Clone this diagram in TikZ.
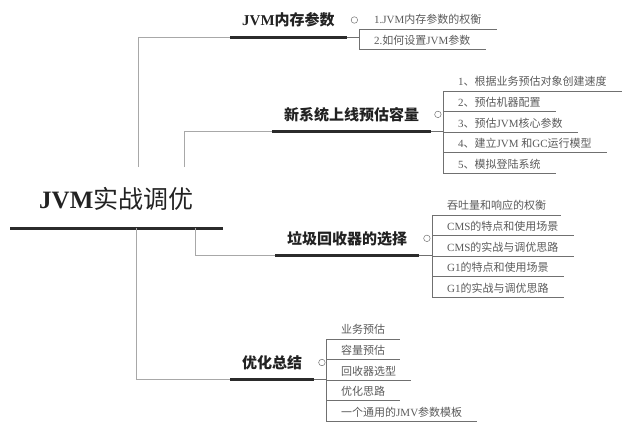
\documentclass[tikz,border=0pt]{standalone}
\usepackage{fontspec}
\setmainfont{Liberation Serif}
\newfontfamily\cjk{Noto Sans CJK SC}
\usetikzlibrary{positioning}
\definecolor{thinline}{HTML}{A8A8A8}
\definecolor{subline}{HTML}{707070}
\definecolor{barline}{HTML}{2B2B2B}
\definecolor{subtext}{HTML}{5A5A5A}
\definecolor{maintext}{HTML}{222222}
\newcommand{\zh}[1]{{\cjk #1}}

\begin{document}
\begin{tikzpicture}[x=1pt, y=-1pt,
  root/.style={anchor=south west, inner xsep=29pt, inner ysep=17pt,
    font=\fontsize{25}{25}\selectfont, text=maintext},
  branch/.style={anchor=south west, inner xsep=12pt, inner ysep=9.5pt,
    font=\fontsize{15}{15}\selectfont\bfseries, text=maintext},
  item/.style={anchor=north west, inner xsep=15pt, inner ysep=4pt,
    text height=11.2pt, text depth=1pt, font=\fontsize{11}{11}\selectfont, text=subtext},
  bar/.style={line width=3pt, draw=barline},
  conn/.style={line width=0.9pt, draw=thinline},
  under/.style={line width=0.8pt, draw=subline},
  fold/.style={circle, draw=subline, line width=0.5pt, inner sep=0pt, minimum size=6.5pt}
]
\useasboundingbox (0,0) rectangle (640,434);

% root
\node[root] (root) at (10,228) {{\bfseries JVM}\zh{实战调优}};
\draw[bar] (root.south west) -- (root.south east);

\coordinate (j1) at (138,167);
\coordinate (j2) at (184,167);
\coordinate (j3) at (195,228);
\coordinate (j4) at (136,228);

% branches
\node[branch] (b1) at (230,37) {JVM\zh{内存参数}};
\node[branch] (b2) at (272,131.4) {\zh{新系统上线预估容量}};
\node[branch] (b3) at (275,255.4) {\zh{垃圾回收器的选择}};
\node[branch] (b4) at (230,379.4) {\zh{优化总结}};

\node[fold, right=4pt of b1.east] (f1) {};
\node[fold, right=3pt of b2.east] (f2) {};
\node[fold, right=4pt of b3.east] (f3) {};
\node[fold, right=4pt of b4.east] (f4) {};

\draw[conn] (j1) |- (b1.south west);
\draw[conn] (j2) |- (b2.south west);
\draw[conn] (j3) |- (b3.south west);
\draw[conn] (j4) |- (b4.south west);
\foreach \b in {b1,b2,b3,b4}
  \draw[bar] (\b.south west) -- (\b.south east);

% JVM内存参数
\node[item, anchor=south west] (m11) at (359,29) {1.JVM\zh{内存参数的权衡}};
\node[item] (m12) at (m11.south west) {2.\zh{如何设置}JVM\zh{参数}};

% 新系统上线预估容量
\node[item, anchor=south west] (m21) at (443,91) {1\zh{、根据业务预估对象创建速度}};
\node[item] (m22) at (m21.south west) {2\zh{、预估机器配置}};
\node[item] (m23) at (m22.south west) {3\zh{、预估}JVM\zh{核心参数}};
\node[item] (m24) at (m23.south west) {4\zh{、建立}JVM \zh{和}GC\zh{运行模型}};
\node[item] (m25) at (m24.south west) {5\zh{、模拟登陆系统}};

% 垃圾回收器的选择
\node[item, anchor=south west] (m31) at (432,215) {\zh{吞吐量和响应的权衡}};
\node[item] (m32) at (m31.south west) {CMS\zh{的特点和使用场景}};
\node[item] (m33) at (m32.south west) {CMS\zh{的实战与调优思路}};
\node[item] (m34) at (m33.south west) {G1\zh{的特点和使用场景}};
\node[item] (m35) at (m34.south west) {G1\zh{的实战与调优思路}};

% 优化总结
\node[item, anchor=south west] (m41) at (326,339) {\zh{业务预估}};
\node[item] (m42) at (m41.south west) {\zh{容量预估}};
\node[item] (m43) at (m42.south west) {\zh{回收器选型}};
\node[item] (m44) at (m43.south west) {\zh{优化思路}};
\node[item] (m45) at (m44.south west) {\zh{一个通用的}JMV\zh{参数模板}};

\foreach \m in {m11,m12,m21,m22,m23,m24,m25,m31,m32,m33,m34,m35,m41,m42,m43,m44,m45}
  \draw[under] (\m.south west) -- (\m.south east);

\draw[under] (m11.south west) -- (m12.south west);
\draw[under] (m21.south west) -- (m25.south west);
\draw[under] (m31.south west) -- (m35.south west);
\draw[under] (m41.south west) -- (m45.south west);

\draw[under] (b1.south east) -- (b1.south east -| m11.west);
\draw[under] (b2.south east) -- (b2.south east -| m21.west);
\draw[under] (b3.south east) -- (b3.south east -| m31.west);
\draw[under] (b4.south east) -- (b4.south east -| m41.west);
\end{tikzpicture}
\end{document}
